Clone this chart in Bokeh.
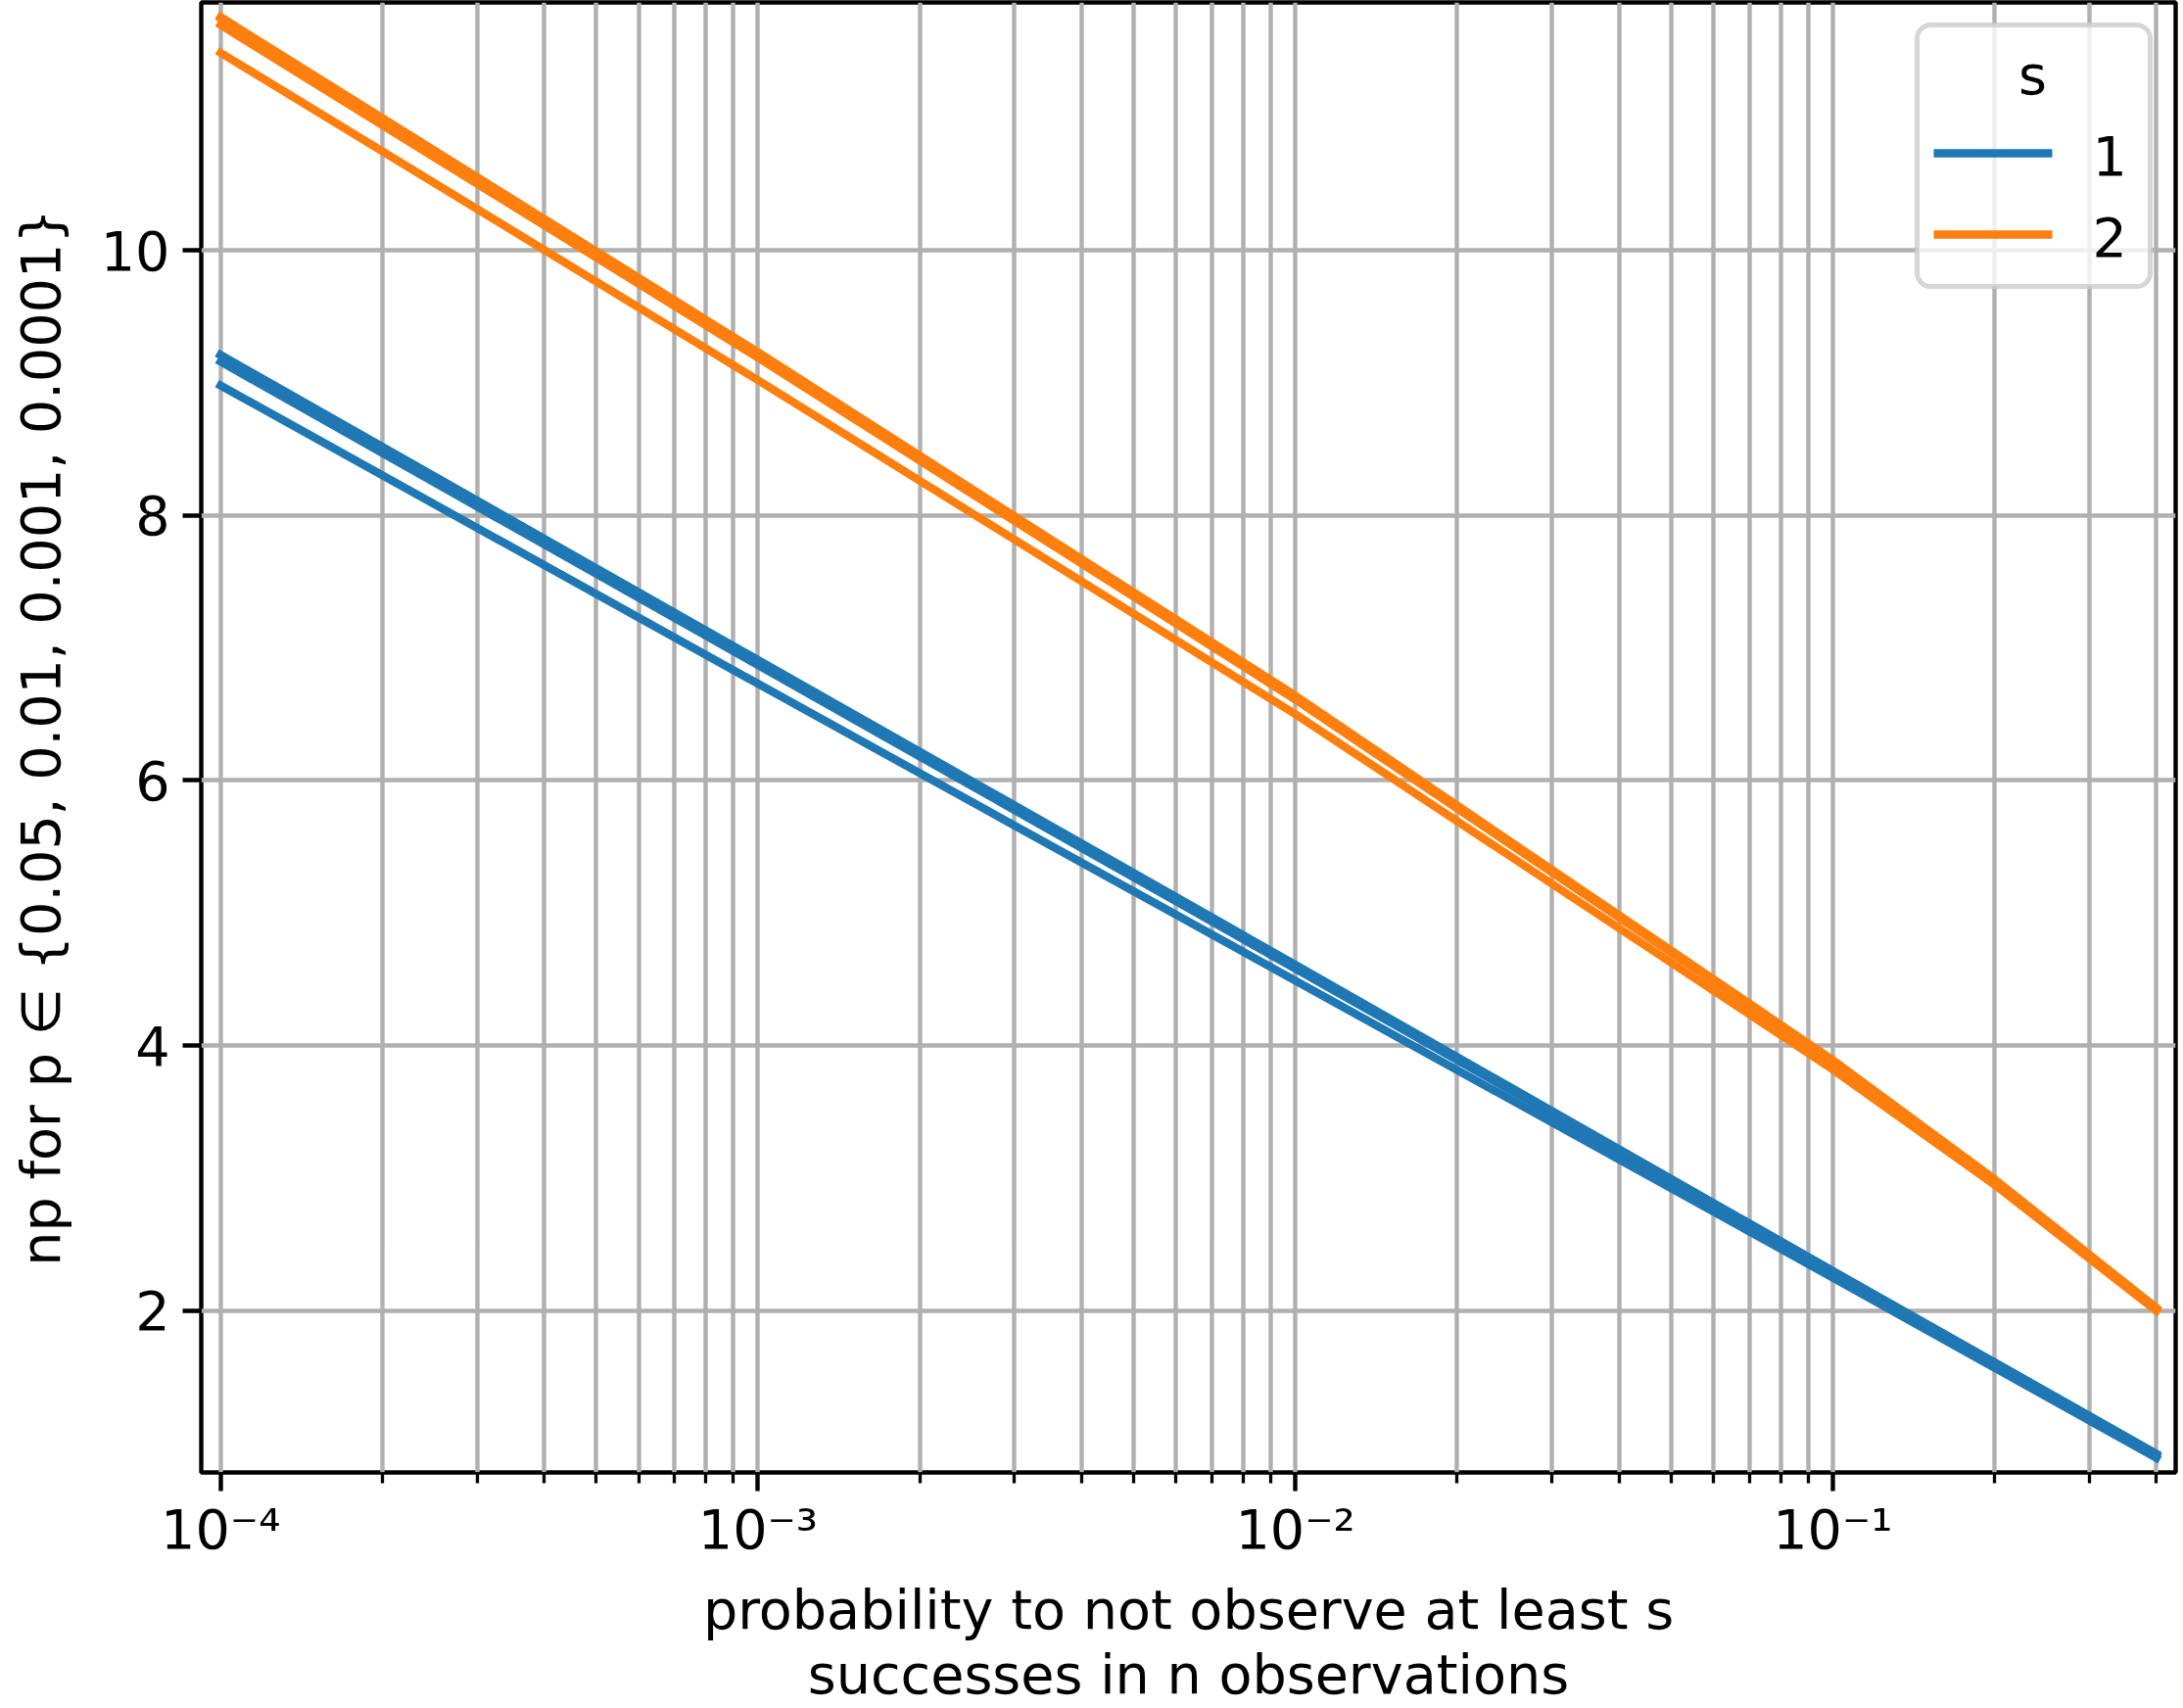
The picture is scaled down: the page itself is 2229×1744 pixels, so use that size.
from bokeh.plotting import figure
from bokeh.models import Range1d, FixedTicker, Label, BoxAnnotation
from bokeh.embed import file_html
from bokeh.resources import INLINE

# ---- data ----
q = [1e-4, 1e-3, 1e-2, 0.1, 0.2, 0.4]   # probability to not observe at least s successes
s_values = [1, 2]
p_values = [0.05, 0.01, 0.001, 0.0001]

np_s1 = {
    0.05:   [8.98, 6.73, 4.49, 2.25, 1.57, 0.89],
    0.01:   [9.16, 6.87, 4.58, 2.29, 1.60, 0.91],
    0.001:  [9.21, 6.90, 4.60, 2.30, 1.61, 0.92],
    0.0001: [9.21, 6.91, 4.61, 2.30, 1.61, 0.92],
}
np_s2 = {
    0.05:   [11.49, 9.02, 6.50, 3.82, 2.95, 2.00],
    0.01:   [11.70, 9.19, 6.61, 3.88, 2.99, 2.02],
    0.001:  [11.75, 9.23, 6.63, 3.89, 2.99, 2.02],
    0.0001: [11.76, 9.23, 6.64, 3.89, 2.99, 2.02],
}

x_major = [1e-4, 1e-3, 1e-2, 1e-1]
x_minor = [2e-4, 3e-4, 4e-4, 5e-4, 6e-4, 7e-4, 8e-4, 9e-4,
           2e-3, 3e-3, 4e-3, 5e-3, 6e-3, 7e-3, 8e-3, 9e-3,
           2e-2, 3e-2, 4e-2, 5e-2, 6e-2, 7e-2, 8e-2, 9e-2,
           0.2, 0.3, 0.4]
x_tick_labels = {1e-4: "10\u207b\u2074", 1e-3: "10\u207b\u00b3",
                 1e-2: "10\u207b\u00b2", 1e-1: "10\u207b\u00b9"}
y_major = [2, 4, 6, 8, 10]

x_label = "probability to not observe at least s\nsuccesses in n observations"
y_label = "np for p \u2208 {0.05, 0.01, 0.001, 0.0001}"

colors = {1: "#1f77b4", 2: "#ff7f0e"}

FONT = "DejaVu Sans"
FS = "55.6px"

# ---- figure ----
W, H = 2229, 1744
FL, FR, FT, FB = 205, 2221, 2, 1504      # frame edges in page pixels
p = figure(width=W, height=H, x_axis_type="log",
           x_range=Range1d(10 ** -4.036, 10 ** -0.362),
           y_range=Range1d(0.78, 11.87),
           output_backend="svg", toolbar_location=None, title=None,
           min_border_left=FL, min_border_right=W - FR,
           min_border_top=FT, min_border_bottom=H - FB)
p.background_fill_color = "white"
p.border_fill_color = "white"
p.outline_line_color = "black"
p.outline_line_width = 4.4

# axes
p.xaxis.ticker = FixedTicker(ticks=x_major, minor_ticks=x_minor)
p.xaxis.major_label_overrides = x_tick_labels
p.yaxis.ticker = FixedTicker(ticks=y_major)
for ax in (p.xaxis[0], p.yaxis[0]):
    ax.axis_line_color = None
    ax.major_tick_line_color = "black"
    ax.major_tick_line_width = 4.4
    ax.major_tick_out = 19
    ax.major_tick_in = 0
    ax.minor_tick_line_color = "black"
    ax.minor_tick_line_width = 3.3
    ax.minor_tick_out = 11
    ax.minor_tick_in = 0
    ax.major_label_text_font = FONT
    ax.major_label_text_font_size = FS
    ax.major_label_text_color = "black"
    ax.axis_label_text_font = FONT
    ax.axis_label_text_font_size = FS
    ax.axis_label_text_font_style = "normal"
    ax.axis_label_text_color = "black"
p.yaxis.minor_tick_line_color = None
p.xaxis.major_label_standoff = 6
p.yaxis.major_label_standoff = 13
p.xaxis.axis_label = x_label
p.yaxis.axis_label = y_label
p.xaxis.axis_label_text_line_height = 1.02
p.xaxis.axis_label_standoff = 14
p.yaxis.axis_label_standoff = 26

# grid
p.xgrid.grid_line_color = "#b0b0b0"
p.xgrid.grid_line_width = 4.4
p.xgrid.minor_grid_line_color = "#b0b0b0"
p.xgrid.minor_grid_line_width = 4.4
p.ygrid.grid_line_color = "#b0b0b0"
p.ygrid.grid_line_width = 4.4

# ---- lines ----
for s in s_values:
    table = np_s1 if s == 1 else np_s2
    for pv in p_values:
        p.line(q, table[pv], line_color=colors[s], line_width=8.3,
               line_cap="square", line_join="round")


def sx(page_x):
    return page_x - FL


def sy(page_y):
    return FB - page_y


def lab(x, y, text, align="left"):
    p.add_layout(Label(x=x, y=y, x_units="screen", y_units="screen", text=text,
                       text_font=FONT, text_font_size=FS, text_font_style="normal",
                       text_align=align, text_baseline="alphabetic",
                       text_color="black"))


# ---- legend ----
p.add_layout(BoxAnnotation(left=sx(1957), right=sx(2195), top=sy(26), bottom=sy(293),
                           left_units="screen", right_units="screen",
                           top_units="screen", bottom_units="screen",
                           fill_color="white", fill_alpha=0.8,
                           line_color="#cccccc", line_alpha=0.8, line_width=5.0,
                           border_radius=14))
lab(sx(2075), sy(77), "s", align="center")
for i, s in enumerate(s_values):
    ly = [157, 240][i]
    p.add_layout(BoxAnnotation(left=sx(1974), right=sx(2095), top=sy(ly - 4.15), bottom=sy(ly + 4.15),
                               left_units="screen", right_units="screen",
                               top_units="screen", bottom_units="screen",
                               fill_color=colors[s], fill_alpha=1.0, line_color=None))
    lab(sx(2136), sy(ly + 2), str(s))

open("out.html", "w").write(file_html(p, INLINE))
